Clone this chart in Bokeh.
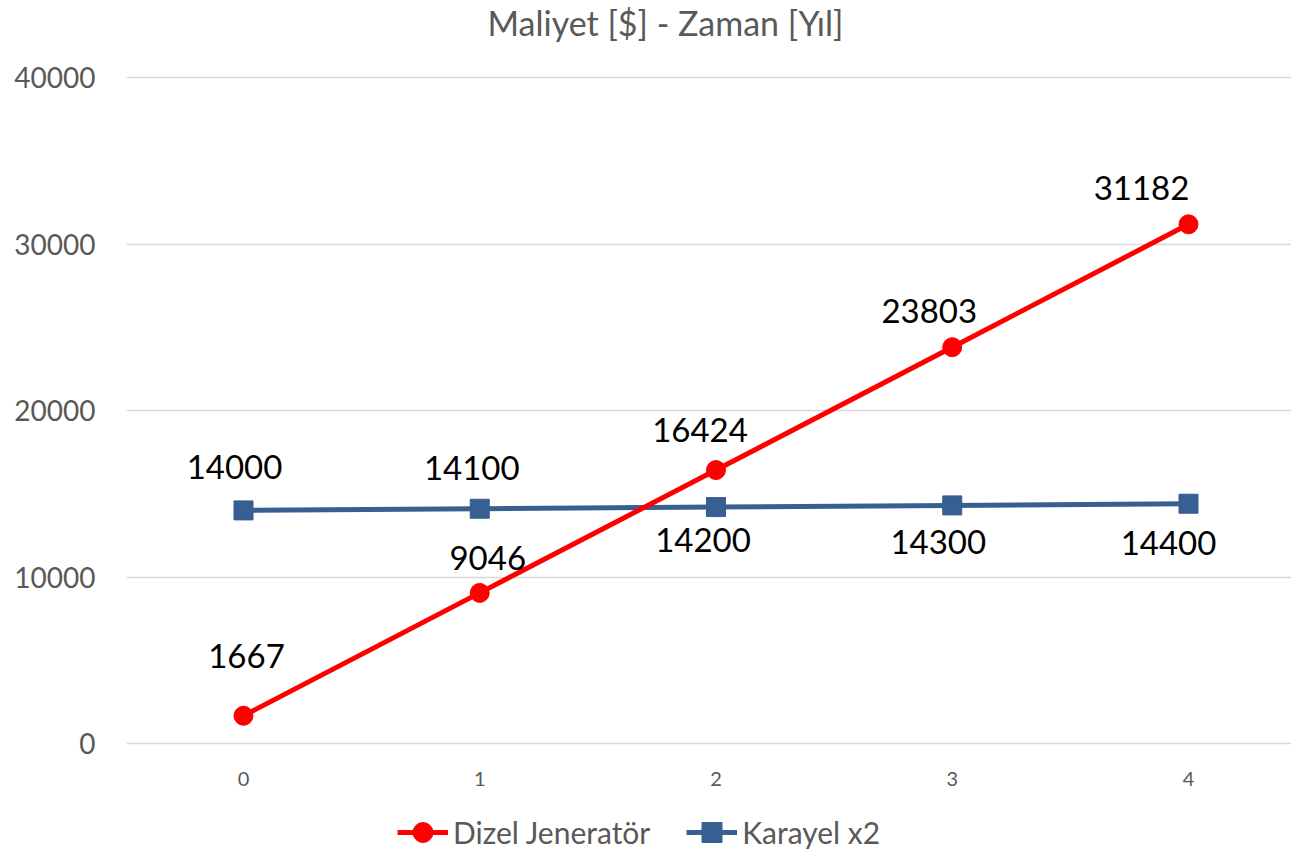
from bokeh.plotting import figure
from bokeh.models import ColumnDataSource, Range1d, FixedTicker, Legend, LegendItem, Title
from bokeh.layouts import column
from bokeh.embed import file_html
from bokeh.resources import INLINE
from bokeh.core.properties import value

years = [0, 1, 2, 3, 4]
dizel = [1667, 9046, 16424, 23803, 31182]
karayel = [14000, 14100, 14200, 14300, 14400]
y_ticks = [0, 10000, 20000, 30000, 40000]
series_names = ["Dizel Jeneratör", "Karayel x2"]

# label offsets in screen pixels (dx, dy; dy positive = down)
dizel_dx = [3, 8, -16, -23, -47]
dizel_dy = [-60, -35, -40, -36, -36]
kar_dx = [-9, -8, -13, -14, -20]
kar_dy = [-43, -41, 33, 37, 39]

FONT = "Lato"
GRAY = "#595959"
RED = "#FF0000"
BLUE = "#375F92"

p = figure(width=1291, height=790, output_backend="svg", toolbar_location=None,
           x_range=Range1d(-0.4952, 4.436), y_range=Range1d(-1021, 41982),
           min_border_left=126, min_border_right=0, min_border_top=44, min_border_bottom=30)
p.outline_line_color = None
p.background_fill_color = "white"
p.border_fill_color = "white"

t = Title(text="Maliyet [$] - Zaman [Yıl]", align="left", text_font=FONT,
          text_font_size="34px", text_font_style="normal", text_color=GRAY, offset=361,
          standoff=0, vertical_align="top", text_line_height=0.8)
p.add_layout(t, "above")

p.xgrid.grid_line_color = None
p.ygrid.grid_line_color = "#D9D9D9"
p.ygrid.grid_line_width = 1.5

p.yaxis.ticker = FixedTicker(ticks=y_ticks)
p.xaxis.ticker = FixedTicker(ticks=years)
for ax in (p.xaxis, p.yaxis):
    ax.axis_line_color = None
    ax.major_tick_line_color = None
    ax.minor_tick_line_color = None
    ax.major_label_text_font = FONT
    ax.major_label_text_color = GRAY
p.yaxis.major_label_text_font_size = "28px"
p.yaxis.major_label_standoff = 25
p.xaxis.major_label_text_font_size = "20px"
p.xaxis.major_label_standoff = 5

src_d = ColumnDataSource(dict(x=years, y=dizel, t=[str(v) for v in dizel], dx=dizel_dx, dy=dizel_dy))
src_k = ColumnDataSource(dict(x=years, y=karayel, t=[str(v) for v in karayel], dx=kar_dx, dy=kar_dy))

p.line("x", "y", source=src_k, line_color=BLUE, line_width=5)
p.scatter("x", "y", source=src_k, marker="square", size=19, fill_color=BLUE, line_color=BLUE)
p.line("x", "y", source=src_d, line_color=RED, line_width=5)
p.scatter("x", "y", source=src_d, marker="circle", size=19, fill_color=RED, line_color=RED)

for src in (src_d, src_k):
    p.text("x", "y", text="t", source=src, x_offset="dx", y_offset="dy",
           text_font=value(FONT), text_font_size="33px", text_color="black",
           text_align="center", text_baseline="middle")

# legend strip below the chart (keys drawn by proxy renderers placed off-view)
lg = figure(width=1291, height=67, output_backend="svg", toolbar_location=None,
            x_range=Range1d(0, 1291), y_range=Range1d(0, 67),
            min_border=0, x_axis_location=None, y_axis_location=None)
lg.outline_line_color = None
lg.xgrid.grid_line_color = None
lg.ygrid.grid_line_color = None
off = dict(x=[-1000], y=[-1000])
ld = lg.line(x=off["x"], y=off["y"], line_color=RED, line_width=5)
sd = lg.scatter(x=off["x"], y=off["y"], marker="circle", size=20, fill_color=RED, line_color=RED)
lk = lg.line(x=off["x"], y=off["y"], line_color=BLUE, line_width=5)
sk = lg.scatter(x=off["x"], y=off["y"], marker="square", size=18, fill_color=BLUE, line_color=BLUE)

legend = Legend(items=[LegendItem(label=series_names[0], renderers=[ld, sd]),
                       LegendItem(label=series_names[1], renderers=[lk, sk])],
                location=(271, 0), orientation="horizontal",
                label_text_font=FONT, label_text_font_size="30px", label_text_color=GRAY,
                glyph_width=51, glyph_height=50, label_standoff=5, spacing=36,
                padding=0, margin=0, border_line_color=None, background_fill_alpha=0)
lg.add_layout(legend, "center")

layout = column(p, lg, spacing=0)
open("out.html", "w").write(file_html(layout, INLINE))
